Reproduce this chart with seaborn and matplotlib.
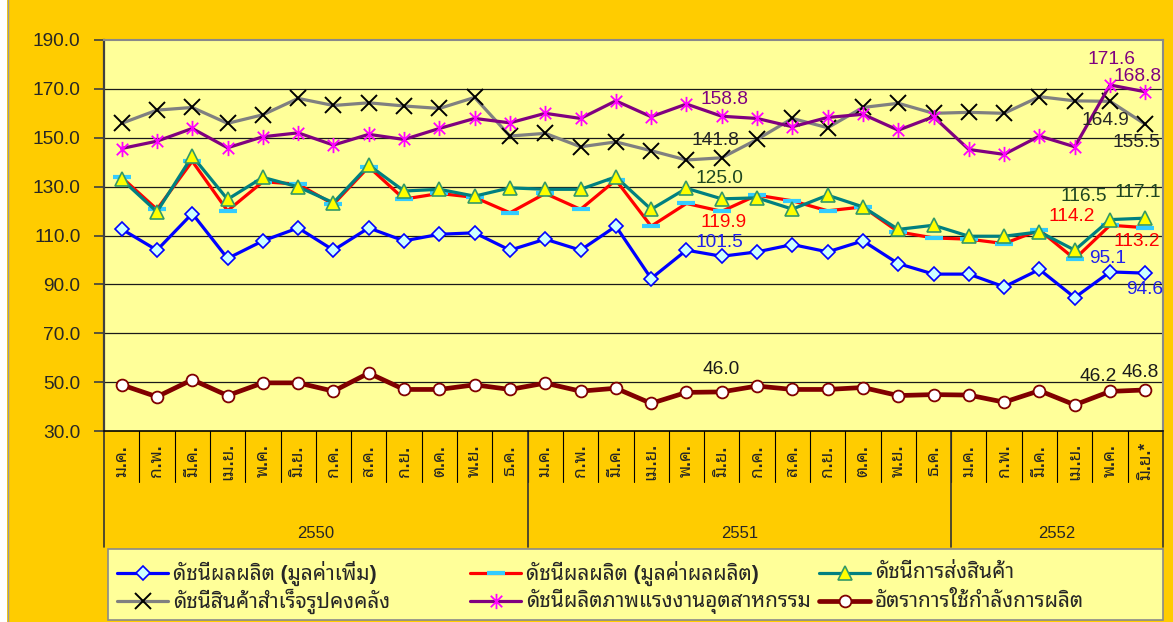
import numpy as np
import pandas as pd
import seaborn as sns
import matplotlib.pyplot as plt
import matplotlib.transforms as mtransforms
from matplotlib.path import Path
from matplotlib.patches import Rectangle
from matplotlib.lines import Line2D

# DATA
month_names = ['ม.ค.', 'ก.พ.', 'มี.ค.', 'เม.ย.', 'พ.ค.', 'มิ.ย.',
               'ก.ค.', 'ส.ค.', 'ก.ย.', 'ต.ค.', 'พ.ย.', 'ธ.ค.']
month_labels = month_names + month_names + month_names[:5] + ['มิ.ย.*']
years = ['2550', '2551', '2552']
year_sizes = [12, 12, 6]

value_added = [112.6, 104.0, 119.0, 100.6, 107.8, 113.1, 104.0, 113.1, 107.8, 110.5, 111.1, 104.0,
               108.5, 104.0, 113.8, 92.4, 104.0, 101.5, 103.3, 106.3, 103.3, 107.8, 98.5, 94.2,
               94.2, 89.0, 96.1, 84.6, 95.1, 94.6]
output_value = [133.8, 120.7, 140.4, 120.1, 132.0, 131.0, 122.8, 138.1, 124.9, 127.2, 125.6, 119.3,
                127.2, 120.7, 132.7, 113.8, 123.1, 119.9, 126.5, 124.2, 120.1, 121.7, 111.5, 109.0,
                108.5, 106.7, 112.2, 100.4, 114.2, 113.2]
shipments = [133.0, 119.7, 142.5, 124.8, 133.8, 129.9, 123.4, 138.8, 128.2, 128.9, 126.1, 129.5,
             128.9, 128.9, 134.0, 120.7, 129.3, 125.0, 125.4, 120.8, 126.5, 121.7, 112.5, 114.2,
             109.7, 109.7, 111.5, 104.0, 116.5, 117.1]
inventory = [155.9, 161.3, 162.4, 155.9, 159.4, 166.1, 163.2, 164.3, 163.0, 162.0, 166.5, 150.7,
             151.8, 146.3, 148.3, 144.7, 140.9, 141.8, 149.3, 157.9, 154.1, 162.4, 164.1, 160.0,
             160.4, 160.0, 166.8, 165.1, 164.9, 155.5]
productivity = [145.6, 148.6, 153.8, 145.9, 150.4, 152.0, 147.0, 151.4, 149.3, 153.8, 157.9, 156.1,
                160.0, 157.9, 165.1, 158.6, 163.8, 158.8, 157.9, 154.5, 158.3, 159.6, 153.1, 158.6,
                145.2, 143.2, 150.7, 146.3, 171.6, 168.8]
capacity = [48.9, 44.0, 51.0, 44.5, 49.7, 49.7, 46.3, 53.7, 47.0, 47.0, 48.9, 47.0,
            49.6, 46.3, 47.5, 41.3, 45.8, 46.0, 48.4, 47.0, 47.0, 47.8, 44.5, 44.9,
            44.7, 41.8, 46.5, 40.7, 46.2, 46.8]

names = ['ดัชนีผลผลิต (มูลค่าเพิ่ม)', 'ดัชนีผลผลิต (มูลค่าผลผลิต)', 'ดัชนีการส่งสินค้า',
         'ดัชนีสินค้าสำเร็จรูปคงคลัง', 'ดัชนีผลิตภาพแรงงานอุตสาหกรรม', 'อัตราการใช้กำลังการผลิต']

labelled_points = [17, 28, 29]

sns.set_style("ticks")
plt.rcParams['font.family'] = ['Liberation Sans', 'Noto Sans Thai Looped', 'DejaVu Sans']

W, H = 1173, 622
fig = plt.figure(figsize=(W / 100, H / 100), dpi=100, facecolor='#FFCC00')
fig.patches.append(Rectangle((0, 0), 7 / W, 1, transform=fig.transFigure, facecolor='white',
                             edgecolor='none', zorder=0))
fig.lines.append(Line2D([7.5 / W, 7.5 / W], [0, 1], transform=fig.transFigure, color='#999999', lw=1))

ax = fig.add_axes([104 / W, 1 - 431 / H, (1163 - 104) / W, 391 / H])
ax.set_facecolor('#FFFF99')

# asterisk marker: vertical bar plus an X
star = Path([(0, -1), (0, 1), (-0.75, -0.75), (0.75, 0.75), (-0.75, 0.75), (0.75, -0.75)],
            [Path.MOVETO, Path.LINETO] * 3)

styles = [
    dict(color='#0000FF', lw=2.3, marker='D', ms=6.8, mfc='#CCFFFF', mec='#0000FF', mew=1.2),
    dict(color='#FF0000', lw=2.3, marker='_', ms=13, mfc='#33CCFF', mec='#33CCFF', mew=3),
    dict(color='#008080', lw=2.3, marker='^', ms=9.5, mfc='#FFFF00', mec='#339966', mew=1.2),
    dict(color='#808080', lw=2.3, marker='x', ms=11, mfc='black', mec='black', mew=1.4),
    dict(color='#800080', lw=2.3, marker=star, ms=11, mfc='#FF00FF', mec='#FF00FF', mew=1.3),
    dict(color='#800000', lw=3.4, marker='o', ms=8.5, mfc='white', mec='#800000', mew=1.3),
]
series = [value_added, output_value, shipments, inventory, productivity, capacity]
x = np.arange(len(month_labels))

for vals, st in zip(series, styles):
    sns.lineplot(x=x, y=vals, ax=ax, zorder=3, **st)

# data labels: offsets in px (dx, dy) for points 17, 28, 29
label_offsets = [
    [(-2, 14), (-2, 13), (-1, -16)],
    [(2, -11), (-38, 9), (-9, -14)],
    [(-2, 20), (-26, 23), (-8, 26)],
    [(-6, 17), (-5, -19), (-9, -18)],
    [(3, 17), (1, 25), (-8, 15)],
    [(-1, 22), (-12, 15), (-5, 17)],
]
label_colors = ['#2020EE', '#FF0000', '#1E4620', '#262626', '#800080', '#1A1A1A']
for vals, offs, col in zip(series, label_offsets, label_colors):
    for i, (dx, dy) in zip(labelled_points, offs):
        ax.annotate(f'{vals[i]:.1f}', (x[i], vals[i]), xytext=(dx * 0.72, dy * 0.72),
                    textcoords='offset points', ha='center', va='center', fontsize=13.8,
                    color=col, zorder=5)

ax.set_xlim(-0.5, len(x) - 0.5)
ax.set_ylim(30, 190)
yt = np.arange(30, 191, 20)
ax.set_yticks(yt)
ax.set_yticklabels([f'{t:.1f}' for t in yt], fontsize=13.8)
ax.tick_params(axis='y', direction='out', length=7, width=1.2, color='#404040', pad=10)
ax.set_xticks([])
ax.set_xlabel('')
ax.set_ylabel('')
for t in yt[1:-1]:
    ax.axhline(t, color='#1a1a1a', lw=0.9, zorder=1)
ax.spines['left'].set_color('#404040')
ax.spines['left'].set_linewidth(1.6)
ax.spines['bottom'].set_color('black')
ax.spines['bottom'].set_linewidth(1.2)
for s in ['top', 'right']:
    ax.spines[s].set_color('#8a8a8a')
    ax.spines[s].set_linewidth(1.5)

# category axis below the plot
tr = mtransforms.blended_transform_factory(ax.transData, ax.transAxes)
cat_bottom = -(482 - 431) / 391
year_bottom = -(547 - 431) / 391
for k in range(1, len(x)):
    ax.plot([k - 0.5, k - 0.5], [0, cat_bottom], transform=tr, color='black', lw=0.8, clip_on=False)
edges = np.cumsum([0] + year_sizes) - 0.5
for e in edges:
    ax.plot([e, e], [0, year_bottom], transform=tr, color='#333333', lw=1.2, clip_on=False)
for i, lab in enumerate(month_labels):
    ax.text(i, -(461 - 431) / 391, lab, transform=tr, rotation=90, ha='center', va='center',
            fontsize=12.5, fontweight='bold')
for y, a, b in zip(years, edges[:-1], edges[1:]):
    ax.text((a + b) / 2, -(533 - 431) / 391, y, transform=tr, ha='center', va='center', fontsize=12)

# legend box, drawn entry by entry in pixel positions
fig.patches.append(Rectangle((108 / W, 1 - 620 / H), (1163 - 108) / W, 71 / H, transform=fig.transFigure,
                             facecolor='#FFFF99', edgecolor='#8a8a8a', lw=1.2, zorder=1))
col_x = [117, 470, 819]
row_y = [573, 601]
for n, (name, st) in enumerate(zip(names, styles)):
    x0 = col_x[n % 3]
    y0 = 1 - row_y[n // 3] / H
    fig.add_artist(Line2D([x0 / W, (x0 + 51) / W], [y0, y0], color=st['color'], lw=st['lw']))
    mk = {k: v for k, v in st.items() if k not in ('lw',)}
    fig.add_artist(Line2D([(x0 + 25.5) / W], [y0], linestyle='none', **mk))
    fig.text((x0 + 56) / W, y0, name, ha='left', va='center', fontsize=15, fontweight='bold')

fig.savefig('out.png', dpi=100, facecolor=fig.get_facecolor())
